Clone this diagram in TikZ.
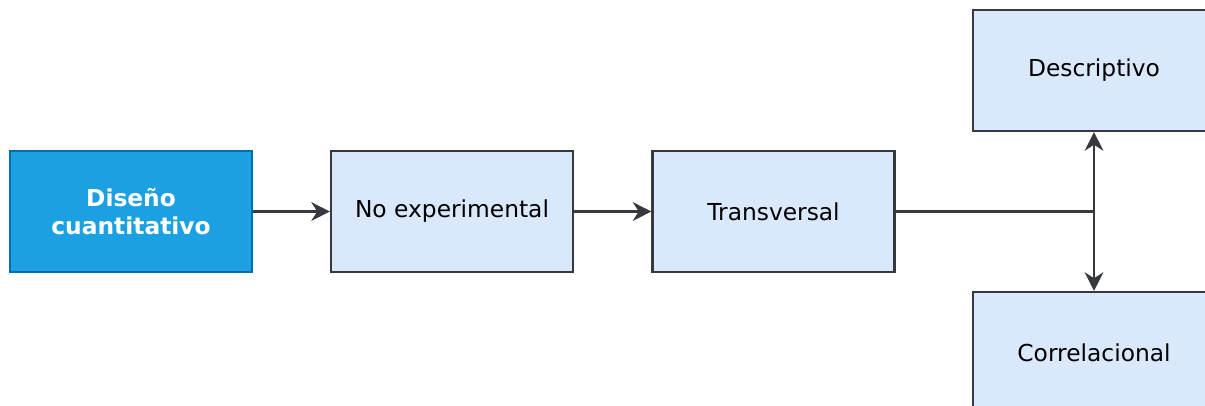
\documentclass[tikz,border=0pt]{standalone}
\usepackage{fontspec}
\setmainfont{DejaVu Sans}
\usetikzlibrary{arrows.meta}

\definecolor{azulfuerte}{HTML}{1BA1E2}
\definecolor{azulborde}{HTML}{006EAF}
\definecolor{azulclaro}{HTML}{DAE8FC}
\definecolor{gris}{HTML}{36393D}

\tikzset{
    caja/.style={draw=gris, fill=azulclaro, line width=1.6pt, minimum width=181.5pt,
                 minimum height=90.75pt, align=center, font=\fontsize{17.5}{21}\selectfont},
    cajafuerte/.style={caja, draw=azulborde, fill=azulfuerte, text=white,
                 font=\fontsize{17.5}{21}\selectfont\bfseries},
    flecha/.style={draw=gris, line width=1.6pt, -{Stealth[length=14pt,width=14pt,inset=4.5pt]}}
}

\begin{document}
\begin{tikzpicture}[x=0.75pt,y=-0.75pt]
    \useasboundingbox (0,0) rectangle (1205,405);
    \clip (0,0) rectangle (1205,405);

    \node[cajafuerte] (diseno) at (131, 211.5) {Diseño\\cuantitativo};
    \node[caja] (noexp) at (452, 211.5) {No experimental};
    \node[caja] (transv) at (773.5, 211.5) {Transversal};

    % ramas a la derecha
    \node[caja] (descr) at (1094, 70.5) {Descriptivo};
    \node[caja] (correl) at (1094, 352.5) {Correlacional};

    \draw[flecha] (diseno) -- (noexp);
    \draw[flecha] (noexp) -- (transv);

    \coordinate (cruce) at (descr.south |- transv.east);
    \draw[draw=gris, line width=1.6pt] (transv.east) -- (cruce);
    \draw[flecha] (cruce) -- (descr.south);
    \draw[flecha] (cruce) -- (correl.north);
\end{tikzpicture}
\end{document}
